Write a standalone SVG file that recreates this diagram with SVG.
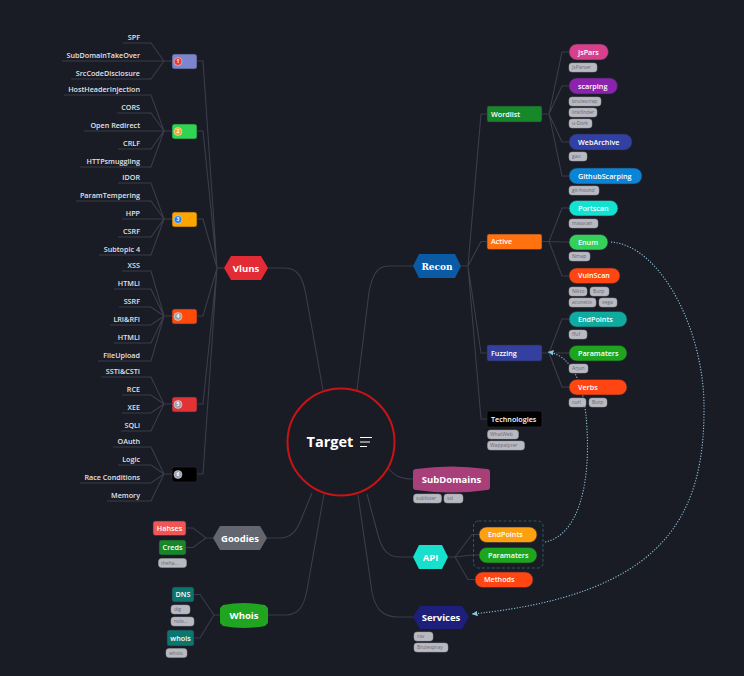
<svg xmlns="http://www.w3.org/2000/svg" width="744" height="676" viewBox="0 0 744 676">
<defs>
<style>
.ln{fill:none;stroke:#3a3d4b;stroke-width:1.1}
.dot{fill:none;stroke:#8cc6dc;stroke-width:1.1;stroke-dasharray:1.2 1.6}
.lf{font-family:"Open Sans","Liberation Sans",sans-serif;font-weight:600;font-size:7.2px;fill:#e2e2e8;text-anchor:end}
.nt{font-family:"Open Sans","Liberation Sans",sans-serif;font-weight:600;font-size:7.2px;fill:#fff}
.mt{font-family:"Open Sans","Liberation Sans",sans-serif;font-weight:700;font-size:9.5px;fill:#fff;text-anchor:middle}
.tg{fill:#b9b9c1;stroke:#9a9aa2;stroke-width:0.5}
.tt{font-family:"Open Sans","Liberation Sans",sans-serif;font-size:5px;fill:#6a6a74}
.ic{stroke:#ffffff;stroke-opacity:0.55;stroke-width:0.8}
.in{font-family:"Open Sans","Liberation Sans",sans-serif;font-weight:700;font-size:5px;fill:#fff;text-anchor:middle}
.bx{stroke:#2c2e38;stroke-width:0.6}
</style>
<marker id="ah" viewBox="0 0 6 6" refX="5" refY="3" markerWidth="6" markerHeight="6" orient="auto">
<path d="M0,0.5L5,3L0,5.5Z" fill="#8cc6dc"/>
</marker>
</defs>
<rect width="744" height="676" fill="#191b25"/>

<g id="connectors">
<!-- main -->
<path class="ln" d="M268,268H285C298,268 303,278 306,295L323,390"/>
<path class="ln" d="M413,266H388C377,266 372,276 369,292L357,390"/>
<path class="ln" d="M388,468C395,476 400,479 413,479"/>
<path class="ln" d="M367,494L378,535C382,550 388,557 400,557H413"/>
<path class="ln" d="M358,495L372,592C375,608 382,617 398,617H413"/>
<path class="ln" d="M312,493L300,522C296,532 290,538 280,538H267"/>
<path class="ln" d="M324,494L307,590C304,607 298,615 285,615H268"/>
<!-- vluns boxes -->
<path class="ln" d="M197,61H203L217,268H224M197,131H203L217,268M197,219H203L217,268M197,316H203L217,268M197,404H203L217,268M197,474H203L217,268"/>
<!-- leaves group 1 -->
<path class="ln" d="M123,43H151L164,61H172M62,61H172M71,79H151L164,61"/>
<!-- group 2 -->
<path class="ln" d="M64,95H151L164,131H172M117,113H151L164,131M84,131H172M118,149H151L164,131M80,167H151L164,131"/>
<!-- group 3 -->
<path class="ln" d="M118,183H151L164,219H172M76,201H151L164,219M122,219H172M118,237H151L164,219M99,255H151L164,219"/>
<!-- group 4 -->
<path class="ln" d="M122,271H151L164,316H172M114,289H151L164,316M119,307H151L164,316M110,325H151L164,316M114,343H151L164,316M98,361H151L164,316"/>
<!-- group 5 -->
<path class="ln" d="M101,377H151L164,404H172M122,395H151L164,404M122,413H151L164,404M121,431H151L164,404"/>
<!-- group 6 -->
<path class="ln" d="M113,447H151L164,474H172M118,465H151L164,474M80,483H151L164,474M107,501H151L164,474"/>
<!-- goodies / whois -->
<path class="ln" d="M186,528H193L206,538H213M186,547.5H193L206,538"/>
<path class="ln" d="M194,594.5H200L214,615H220M194,638H200L214,615"/>
<!-- recon -->
<path class="ln" d="M461,266H468L481,114H487M468,266L481,241.5H487M468,266L481,353H487M468,266L481,419H487"/>
<path class="ln" d="M542,114H549L562,52H569M549,114L562,86H569M549,114L562,142H569M549,114L562,176H569"/>
<path class="ln" d="M542,241.5H549L562,208H569M549,241.5L562,242H569M549,241.5L562,276H569"/>
<path class="ln" d="M542,353H549L562,319H569M549,353L562,353H569M549,353L562,387H569"/>
<!-- api -->
<path class="ln" d="M448,557H455L472,534.5H479M455,557L472,555H479M455,557L468,579.5H475"/>
<!-- dotted relations -->
<path class="dot" d="M611,242C660,245 705,330 704,410C704,520 660,595 472,614" marker-end="url(#ah)"/>
<path class="dot" d="M545,542C580,535 590,480 587,430C585,380 570,355 548,352" marker-end="url(#ah)"/>
</g>

<g id="target">
<circle cx="341" cy="442" r="53.5" fill="#191b25" stroke="#c81414" stroke-width="2"/>
<text x="330" y="447" font-family="'Open Sans','Liberation Sans',sans-serif" font-weight="700" font-size="14.5" fill="#fff" text-anchor="middle">Target</text>
<path d="M360,437.5H372M360,442H370M360,446.5H367" stroke="#fff" stroke-width="1.2"/>
</g>

<g id="vluns"><path d="M224,268L231,256H261L268,268L261,280H231Z" fill="#e22b34"/><text class="mt" x="246" y="271.5">Vluns</text></g>
<g id="recon"><path d="M413,266L419,254H455L461,266L455,278H419Z" fill="#0b5aa5"/><text x="437" y="269.5" font-family="'DejaVu Serif',serif" font-weight="700" font-size="9" fill="#fff" text-anchor="middle">Recon</text></g>
<g id="subdomains"><path d="M413,472Q413,469 416,469Q451,464 487,469Q490,469 490,472V487Q490,490 487,490Q451,495 416,490Q413,490 413,487Z" fill="#a83f7a"/><text class="mt" x="451.5" y="482.5">SubDomains</text>
<rect class="tg" x="413.5" y="494" width="28" height="9" rx="3"/><text class="tt" x="416" y="500.3">sublister</text>
<rect class="tg" x="444" y="494" width="19" height="9" rx="3"/><text class="tt" x="447" y="500.3">ssl</text></g>
<g id="api"><path d="M413,557L419,545H442L448,557L442,569H419Z" fill="#17e0cc"/><text class="mt" x="430.5" y="560.5">API</text></g>
<g id="services"><path d="M413,617L420,606H462L469,617L462,629H420Z" fill="#1d1f7a"/><text class="mt" x="441" y="620.5">Services</text>
<rect class="tg" x="414" y="632" width="19" height="9" rx="3"/><text class="tt" x="417" y="638.3">csv</text>
<rect class="tg" x="414" y="643" width="34" height="9" rx="3"/><text class="tt" x="417" y="649.3">Brutespray</text></g>
<g id="goodies"><path d="M213,538L220,526H260L267,538L260,550H220Z" fill="#63656f"/><text class="mt" x="240" y="541.5">Goodies</text></g>
<g id="whois-main"><path d="M220,608L223,605Q244,601 265,605L268,608V623L265,626Q244,630 223,626L220,623Z" fill="#1fa51f"/><text class="mt" x="244" y="618.5">Whois</text></g>

<g id="hahses"><rect class="bx" x="153" y="521" width="33" height="14.5" rx="2.5" fill="#f25555"/><text class="nt" x="169.5" y="530.8" text-anchor="middle">Hahses</text></g>
<g id="creds"><rect class="bx" x="159" y="540" width="27" height="15" rx="2.5" fill="#17882a"/><text class="nt" x="172.5" y="550" text-anchor="middle">Creds</text>
<rect class="tg" x="158.5" y="558.5" width="28" height="9" rx="3"/><text class="tt" x="161" y="564.8">theha...</text></g>
<g id="dns"><rect class="bx" x="172" y="587" width="22" height="15" rx="2.5" fill="#0b766e"/><text class="nt" x="183" y="597" text-anchor="middle">DNS</text>
<rect class="tg" x="171" y="605" width="19" height="9" rx="3"/><text class="tt" x="174" y="611.3">dig</text>
<rect class="tg" x="171" y="617" width="23" height="9" rx="3"/><text class="tt" x="174" y="623.3">nslo...</text></g>
<g id="whois"><rect class="bx" x="167" y="630" width="27" height="16" rx="2.5" fill="#0b766e"/><text class="nt" x="180.5" y="640.5" text-anchor="middle">whois</text>
<rect class="tg" x="166" y="648.5" width="21" height="9" rx="3"/><text class="tt" x="169" y="654.8">whois</text></g>

<!-- vluns categories -->
<g id="cat1"><rect class="bx" x="172" y="54" width="25" height="15" rx="2.5" fill="#7b86cc"/><circle class="ic" cx="178" cy="61.5" r="4" fill="#e8383c"/><text class="in" x="178" y="63.3">1</text></g>
<g id="cat2"><rect class="bx" x="172" y="124" width="25" height="15" rx="2.5" fill="#2fd452"/><circle class="ic" cx="178" cy="131.5" r="4" fill="#f5a623"/><text class="in" x="178" y="133.3">2</text></g>
<g id="cat3"><rect class="bx" x="172" y="212" width="25" height="15" rx="2.5" fill="#ffa500"/><circle class="ic" cx="178" cy="219.5" r="4" fill="#2f80e8"/><text class="in" x="178" y="221.3">3</text></g>
<g id="cat4"><rect class="bx" x="172" y="309" width="25" height="15" rx="2.5" fill="#ff4a0a"/><circle class="ic" cx="178" cy="316.5" r="4" fill="#a0a0a8"/><text class="in" x="178" y="318.3">4</text></g>
<g id="cat5"><rect class="bx" x="172" y="397" width="25" height="15" rx="2.5" fill="#e23236"/><circle class="ic" cx="178" cy="404.5" r="4" fill="#a0a0a8"/><text class="in" x="178" y="406.3">5</text></g>
<g id="cat6"><rect class="bx" x="172" y="467" width="25" height="15" rx="2.5" fill="#000"/><circle class="ic" cx="178" cy="474.5" r="4" fill="#a0a0a8"/><text class="in" x="178" y="476.3">6</text></g>

<g id="leaves">
<text class="lf" x="140" y="39.5">SPF</text>
<text class="lf" x="140" y="57.5">SubDomainTakeOver</text>
<text class="lf" x="140" y="75.5">SrcCodeDisclosure</text>
<text class="lf" x="140" y="91.5">HostHeaderInjection</text>
<text class="lf" x="140" y="109.5">CORS</text>
<text class="lf" x="140" y="127.5">Open Redirect</text>
<text class="lf" x="140" y="145.5">CRLF</text>
<text class="lf" x="140" y="163.5">HTTPsmuggling</text>
<text class="lf" x="140" y="179.5">IDOR</text>
<text class="lf" x="140" y="197.5">ParamTempering</text>
<text class="lf" x="140" y="215.5">HPP</text>
<text class="lf" x="140" y="233.5">CSRF</text>
<text class="lf" x="140" y="251.5">Subtopic 4</text>
<text class="lf" x="140" y="267.5">XSS</text>
<text class="lf" x="140" y="285.5">HTMLI</text>
<text class="lf" x="140" y="303.5">SSRF</text>
<text class="lf" x="140" y="321.5">LRI&amp;RFI</text>
<text class="lf" x="140" y="339.5">HTMLI</text>
<text class="lf" x="140" y="357.5">FileUpload</text>
<text class="lf" x="140" y="373.5">SSTI&amp;CSTI</text>
<text class="lf" x="140" y="391.5">RCE</text>
<text class="lf" x="140" y="409.5">XEE</text>
<text class="lf" x="140" y="427.5">SQLi</text>
<text class="lf" x="140" y="443.5">OAuth</text>
<text class="lf" x="140" y="461.5">Logic</text>
<text class="lf" x="140" y="479.5">Race Conditions</text>
<text class="lf" x="140" y="497.5">Memory</text>
</g>

<!-- recon subtree -->
<g id="wordlist"><rect class="bx" x="487" y="106" width="55" height="16" rx="2" fill="#17882a"/><text class="nt" x="491" y="116.5">Wordlist</text></g>
<g id="active"><rect class="bx" x="487" y="234" width="55" height="15.5" rx="2" fill="#ff720f"/><text class="nt" x="491" y="244.3">Active</text></g>
<g id="fuzzing"><rect class="bx" x="487" y="345" width="55" height="16" rx="2" fill="#3340a0"/><text class="nt" x="491" y="355.5">Fuzzing</text></g>
<g id="technologies"><rect class="bx" x="487" y="411" width="55" height="16" rx="2" fill="#000"/><text class="nt" x="491" y="421.5">Technologies</text>
<rect class="tg" x="487.5" y="430" width="31" height="9" rx="3"/><text class="tt" x="490" y="436.3">WhatWeb</text>
<rect class="tg" x="487.5" y="441" width="37" height="9" rx="3"/><text class="tt" x="490" y="447.3">Wappalyzer</text></g>

<g id="jspars"><rect class="bx" x="569" y="44" width="39.5" height="16" rx="8" fill="#d6408c"/><text class="nt" x="578" y="54.5">JsPars</text>
<rect class="tg" x="569" y="63" width="28" height="9" rx="3"/><text class="tt" x="572" y="69.3">JsParser</text></g>
<g id="scarping"><rect class="bx" x="569" y="78" width="48.5" height="16" rx="8" fill="#8b23ae"/><text class="nt" x="578" y="88.5">scarping</text>
<rect class="tg" x="569" y="97" width="32" height="9" rx="3"/><text class="tt" x="572" y="103.3">brutescrap</text>
<rect class="tg" x="569" y="108" width="28" height="9" rx="3"/><text class="tt" x="572" y="114.3">linkfinder</text>
<rect class="tg" x="569" y="119" width="23" height="9" rx="3"/><text class="tt" x="572" y="125.3">u-Dork</text></g>
<g id="webarchive"><rect class="bx" x="569" y="134" width="63" height="16" rx="8" fill="#3040a3"/><text class="nt" x="578" y="144.5">WebArchive</text>
<rect class="tg" x="569" y="152" width="18" height="9" rx="3"/><text class="tt" x="572" y="158.3">gau</text></g>
<g id="githubscarping"><rect class="bx" x="569" y="168" width="73" height="16" rx="8" fill="#0a84d6"/><text class="nt" x="578" y="178.5">GithubScarping</text>
<rect class="tg" x="569" y="186" width="30" height="9" rx="3"/><text class="tt" x="572" y="192.3">git-hound</text></g>

<g id="portscan"><rect class="bx" x="569" y="200.5" width="49" height="15.5" rx="7.7" fill="#12e3d0"/><text class="nt" x="578" y="210.8">Portscan</text>
<rect class="tg" x="569" y="219" width="29" height="9" rx="3"/><text class="tt" x="572" y="225.3">masscan</text></g>
<g id="enum"><rect class="bx" x="569" y="234.5" width="39" height="15.5" rx="7.7" fill="#33d15a"/><text class="nt" x="578" y="244.8">Enum</text>
<rect class="tg" x="569" y="252" width="21" height="9" rx="3"/><text class="tt" x="572" y="258.3">Nmap</text></g>
<g id="vulnscan"><rect class="bx" x="569" y="268" width="51" height="15.5" rx="7.7" fill="#ff4612"/><text class="nt" x="578" y="278.3">VulnScan</text>
<rect class="tg" x="569" y="287" width="18" height="9" rx="3"/><text class="tt" x="572" y="293.3">Nikto</text>
<rect class="tg" x="590" y="287" width="19" height="9" rx="3"/><text class="tt" x="593" y="293.3">Burp</text>
<rect class="tg" x="569" y="298" width="27" height="9" rx="3"/><text class="tt" x="572" y="304.3">acunetix</text>
<rect class="tg" x="599" y="298" width="18" height="9" rx="3"/><text class="tt" x="602" y="304.3">vega</text></g>

<g id="fuzz-endpoints"><rect class="bx" x="569" y="311.5" width="58" height="15.5" rx="7.7" fill="#0faaa0"/><text class="nt" x="578" y="321.8">EndPoints</text>
<rect class="tg" x="569" y="330" width="18" height="9" rx="3"/><text class="tt" x="572" y="336.3">ffuf</text></g>
<g id="fuzz-paramaters"><rect class="bx" x="569" y="345.5" width="58" height="15.5" rx="7.7" fill="#1ea51e"/><text class="nt" x="578" y="355.8">Paramaters</text>
<rect class="tg" x="569" y="364" width="19" height="9" rx="3"/><text class="tt" x="572" y="370.3">Arjun</text></g>
<g id="verbs"><rect class="bx" x="569" y="379.5" width="58" height="15.5" rx="7.7" fill="#ff4612"/><text class="nt" x="578" y="389.8">Verbs</text>
<rect class="tg" x="569" y="398" width="17" height="9" rx="3"/><text class="tt" x="572" y="404.3">curl</text>
<rect class="tg" x="589" y="398" width="18" height="9" rx="3"/><text class="tt" x="592" y="404.3">Burp</text></g>

<!-- api subtree -->
<g id="api-group"><rect x="473.5" y="521" width="69.5" height="47" rx="5" fill="none" stroke="#2a5a6a" stroke-width="1" stroke-dasharray="3 2"/></g>
<g id="api-endpoints"><rect class="bx" x="479" y="527" width="58" height="15.5" rx="7.7" fill="#ffa010"/><text class="nt" x="488" y="537.3">EndPoints</text></g>
<g id="api-paramaters"><rect class="bx" x="479" y="547.5" width="58" height="15.5" rx="7.7" fill="#1ea51e"/><text class="nt" x="488" y="557.8">Paramaters</text></g>
<g id="methods"><rect class="bx" x="475" y="572" width="58" height="15.5" rx="7.7" fill="#ff4612"/><text class="nt" x="484" y="582.3">Methods</text></g>
</svg>
